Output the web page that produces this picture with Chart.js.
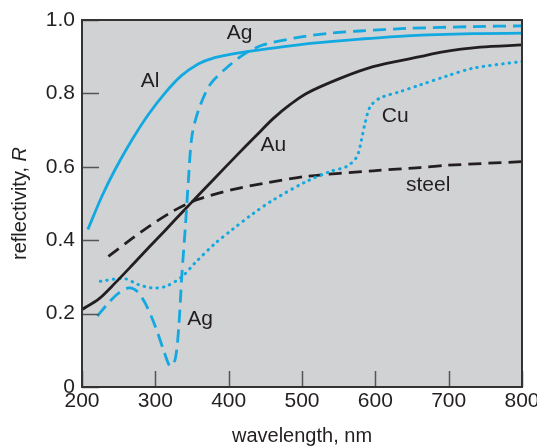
<!DOCTYPE html>
<html>
<head>
<meta charset="utf-8">
<script src="https://cdn.jsdelivr.net/npm/chart.js@4"></script>
<style>
  html, body { margin: 0; padding: 0; background: #fff; }
  #wrap { width: 537px; height: 446px; }
</style>
</head>
<body>
<div id="wrap"><canvas id="refChart" width="537" height="446"></canvas></div>
<script>
// reflectivity vs wavelength
const alNm   = [208, 227, 245, 268, 291, 314, 336, 359, 377, 402, 425, 470, 515, 579, 643, 734, 800];
const alR    = [0.429, 0.519, 0.592, 0.673, 0.744, 0.803, 0.849, 0.881, 0.895, 0.906, 0.914, 0.926, 0.937, 0.948, 0.957, 0.963, 0.964];

const agNm   = [221, 236, 250, 264, 275, 286, 300, 311, 320, 327, 332, 336, 341, 345, 350, 359, 375, 402, 425, 447, 493, 538, 579, 643, 734, 800];
const agR    = [0.193, 0.229, 0.256, 0.27, 0.261, 0.229, 0.165, 0.102, 0.057, 0.075, 0.165, 0.30, 0.438, 0.56, 0.685, 0.755, 0.825, 0.878, 0.912, 0.932, 0.952, 0.964, 0.97, 0.977, 0.982, 0.984];

const auNm   = [200, 223, 245, 268, 291, 314, 336, 359, 382, 409, 438, 461, 484, 506, 552, 597, 661, 688, 743, 800];
const auR    = [0.211, 0.240, 0.283, 0.331, 0.380, 0.428, 0.475, 0.523, 0.571, 0.627, 0.686, 0.732, 0.770, 0.80, 0.841, 0.873, 0.90, 0.912, 0.926, 0.932];

const cuNm   = [225, 245, 259, 277, 295, 314, 336, 354, 382, 405, 433, 461, 506, 538, 561, 575, 581, 586, 593, 606, 634, 661, 697, 734, 800];
const cuR    = [0.288, 0.294, 0.295, 0.279, 0.27, 0.274, 0.30, 0.338, 0.392, 0.429, 0.472, 0.51, 0.56, 0.587, 0.601, 0.628, 0.673, 0.719, 0.764, 0.787, 0.805, 0.823, 0.847, 0.869, 0.887];

const steelNm = [236, 268, 291, 318, 336, 359, 405, 446, 506, 597, 661, 697, 800];
const steelR  = [0.356, 0.404, 0.437, 0.472, 0.492, 0.512, 0.538, 0.554, 0.574, 0.589, 0.598, 0.604, 0.614];

const xTicks = [200, 300, 400, 500, 600, 700, 800];
const yTicks = [0, 0.2, 0.4, 0.6, 0.8, 1.0];

// curve labels [text, wavelength, R]
const curveLabels = [
  ['Al', 293, 0.834],
  ['Ag', 415, 0.965],
  ['Au', 461, 0.66],
  ['Cu', 627, 0.737],
  ['steel', 672, 0.551],
  ['Ag', 361, 0.184]
];

const cyan = '#12a8e0';
const dark = '#231f20';
const font = "'Liberation Sans', Arial, sans-serif";

function pts(xs, ys) {
  return xs.map((x, i) => ({ x: x, y: ys[i] }));
}

const framePlugin = {
  id: 'frame',
  beforeDatasetsDraw(chart) {
    const { ctx, chartArea: a } = chart;
    ctx.save();
    ctx.fillStyle = '#d1d2d4';
    ctx.fillRect(a.left, a.top, a.right - a.left, a.bottom - a.top);
    ctx.restore();
  },
  afterDraw(chart) {
    const { ctx, chartArea: a, scales } = chart;
    ctx.save();
    // inward ticks
    ctx.strokeStyle = '#555';
    ctx.lineWidth = 1.5;
    ctx.beginPath();
    xTicks.forEach(v => {
      const px = Math.round(scales.x.getPixelForValue(v)) + 0.5;
      ctx.moveTo(px, a.bottom);
      ctx.lineTo(px, a.bottom - 16);
    });
    yTicks.forEach(v => {
      const py = Math.round(scales.y.getPixelForValue(v)) + 0.5;
      ctx.moveTo(a.left, py);
      ctx.lineTo(a.left + 17, py);
    });
    ctx.stroke();
    // box
    ctx.strokeStyle = '#333';
    ctx.lineWidth = 2;
    ctx.strokeRect(a.left, a.top, a.right - a.left, a.bottom - a.top);

    // curve labels
    ctx.fillStyle = '#231f20';
    ctx.font = '21px ' + font;
    ctx.textAlign = 'center';
    ctx.textBaseline = 'middle';
    curveLabels.forEach(([t, x, y]) => {
      ctx.fillText(t, scales.x.getPixelForValue(x), scales.y.getPixelForValue(y));
    });

    // axis titles
    ctx.font = '20px ' + font;
    ctx.fillText('wavelength, nm', (a.left + a.right) / 2, 436);
    ctx.translate(20, (a.top + a.bottom) / 2);
    ctx.rotate(-Math.PI / 2);
    const t1 = 'reflectivity, ';
    ctx.font = '20px ' + font;
    const w1 = ctx.measureText(t1).width;
    ctx.font = 'italic 20px ' + font;
    const w2 = ctx.measureText('R').width;
    ctx.textAlign = 'left';
    ctx.font = '20px ' + font;
    ctx.fillText(t1, -(w1 + w2) / 2, 0);
    ctx.font = 'italic 20px ' + font;
    ctx.fillText('R', -(w1 + w2) / 2 + w1, 0);
    ctx.restore();
  }
};

const ctx = document.getElementById('refChart').getContext('2d');
const refChart = new Chart(ctx, {
  type: 'line',
  data: {
    datasets: [
      { label: 'Al', data: pts(alNm, alR), borderColor: cyan, borderWidth: 2.8 },
      { label: 'Ag', data: pts(agNm, agR), borderColor: cyan, borderWidth: 2.8, borderDash: [13, 7] },
      { label: 'Au', data: pts(auNm, auR), borderColor: dark, borderWidth: 2.8 },
      { label: 'Cu', data: pts(cuNm, cuR), borderColor: cyan, borderWidth: 3, borderDash: [0.5, 6], borderCapStyle: 'round' },
      { label: 'steel', data: pts(steelNm, steelR), borderColor: dark, borderWidth: 2.8, borderDash: [13, 7] }
    ]
  },
  options: {
    responsive: false,
    animation: false,
    layout: { padding: { top: 20, right: 15, left: 0, bottom: 0 } },
    elements: {
      point: { radius: 0 },
      line: { tension: 0.3, fill: false }
    },
    plugins: { legend: { display: false }, tooltip: { enabled: false } },
    scales: {
      x: {
        type: 'linear', min: 200, max: 800,
        afterBuildTicks: s => { s.ticks = xTicks.map(v => ({ value: v })); },
        afterFit: s => { s.height = 59; s.paddingLeft = 0; s.paddingRight = 0; },
        grid: { display: false, drawTicks: false },
        border: { display: false },
        ticks: { color: '#231f20', font: { family: font, size: 21 }, padding: 2, maxRotation: 0 }
      },
      y: {
        type: 'linear', min: 0, max: 1,
        afterBuildTicks: s => { s.ticks = yTicks.map(v => ({ value: v })); },
        afterFit: s => { s.width = 82; s.paddingTop = 0; s.paddingBottom = 0; },
        grid: { display: false, drawTicks: false },
        border: { display: false },
        ticks: {
          color: '#231f20', font: { family: font, size: 21 }, padding: 7,
          callback: v => (v === 0 ? '0' : v.toFixed(1))
        }
      }
    }
  },
  plugins: [framePlugin]
});
</script>
</body>
</html>
